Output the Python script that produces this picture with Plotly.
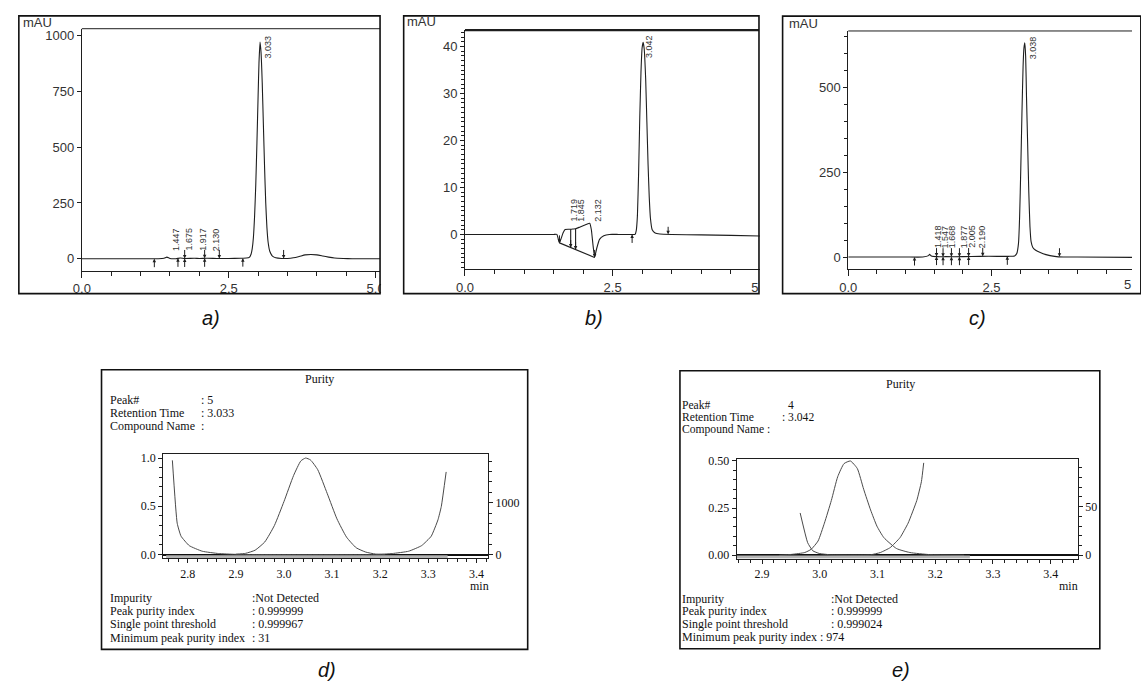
import numpy as np
import plotly.graph_objects as go

W, H = 1141, 687
def px(x): return x / W
def py(y): return 1 - y / H

# ---------------- data: chromatogram a ----------------
a_time = [0.0, 0.5, 1.0, 1.3, 1.40, 1.447, 1.50, 1.60, 1.675, 1.75, 1.917, 2.0, 2.13, 2.3, 2.5, 2.7,
          2.80, 2.85, 2.88, 2.90, 2.92, 2.94, 2.96, 2.98, 3.00, 3.015, 3.033, 3.05, 3.07, 3.09, 3.11,
          3.13, 3.15, 3.17, 3.20, 3.25, 3.30, 3.40, 3.50, 3.60, 3.70, 3.80, 3.90, 4.00, 4.10, 4.20,
          4.30, 4.45, 4.60, 5.0, 5.1]
a_abs = [0, 0, 0, 0, 2, 7, 1, 0, 3, 1, 2, 1, 2, 1, 1, 2,
         3, 6, 20, 45, 95, 190, 330, 520, 730, 880, 972, 925, 790, 600, 410,
         250, 140, 75, 32, 10, 4, 1, 1, 4, 10, 17, 19, 17, 12, 7,
         3, 1, 0, 0, 0]
a_peak_labels = ["1.447", "1.675", "1.917", "2.130"]
a_main_label = "3.033"
a_up = [1.234, 1.636, 1.75, 2.09, 2.74]
a_down = [1.75, 2.09, 2.34, 3.434]

# ---------------- data: chromatogram b ----------------
b_time = [0.0, 1.0, 1.50, 1.557, 1.58, 1.60, 1.63, 1.66, 1.695, 1.75, 1.79, 1.83, 1.873, 1.95, 2.05,
          2.112, 2.14, 2.17, 2.195, 2.23, 2.278, 2.35, 2.445, 2.6, 2.8, 2.88, 2.90, 2.92, 2.94, 2.96,
          2.98, 3.00, 3.017, 3.035, 3.06, 3.08, 3.10, 3.12, 3.14, 3.17, 3.22, 3.30, 3.5, 4.0, 4.5, 5.0]
b_abs = [0, 0, 0, 0, -1.0, -1.8, -0.8, 0.3, 1.05, 1.1, 1.1, 1.15, 1.2, 1.6, 2.1,
         2.4, 1.0, -2.5, -4.9, -3.0, -1.05, -0.3, 0, 0, 0, 0, 0.8, 4, 13, 25,
         34.5, 39.8, 40.9, 39.5, 33, 24, 15, 8, 3.5, 1.0, 0.3, 0.1, 0, -0.1, -0.2, -0.35]
b_base_t = [1.60, 2.195]          # integration baseline under the peak cluster
b_base_y = [-1.8, -4.9]
b_drop_t = [1.79, 1.873]          # drop lines between unresolved peaks
b_peak_labels = ["1.719", "1.845", "2.132"]
b_main_label = "3.042"
b_down = [1.60, 1.79, 1.873, 2.195, 3.44]
b_up = [2.83]

# ---------------- data: chromatogram c ----------------
c_time = [0.0, 0.5, 1.0, 1.3, 1.40, 1.418, 1.45, 1.55, 1.7, 2.0, 2.3, 2.6, 2.8, 2.90, 2.94, 2.97,
          2.99, 3.01, 3.03, 3.05, 3.065, 3.08, 3.095, 3.11, 3.13, 3.15, 3.17, 3.19, 3.22, 3.27,
          3.35, 3.45, 3.6, 3.75, 4.0, 5.0]
c_abs = [0, 0, 0, 0, 4, 8, 3, 1, 1, 1, 2, 2, 2, 3, 10, 40,
         120, 260, 420, 560, 615, 630, 590, 470, 330, 190, 90, 45, 28, 20,
         13, 7, 2, 0, 0, -1]
c_peak_labels = ["1.418", "1.547", "1.668", "1.877", "2.005", "2.190"]
c_main_label = "3.038"
c_up = [1.156, 1.54, 1.654, 1.80, 1.94, 2.10, 2.775]
c_down = [1.54, 1.654, 1.80, 1.94, 2.10, 2.346, 3.685]

# ---------------- data: purity d ----------------
d_time = [2.90, 2.92, 2.94, 2.96, 2.98, 3.00, 3.02, 3.035, 3.045, 3.055, 3.07, 3.09, 3.11, 3.13,
          3.15, 3.17, 3.19, 3.21]
d_peak = [0.003, 0.012, 0.045, 0.13, 0.30, 0.55, 0.82, 0.97, 1.0, 0.98, 0.88, 0.63, 0.37, 0.18,
          0.07, 0.025, 0.005, 0.0]
d_pur_t = [2.768, 2.778, 2.786, 2.803, 2.830, 2.864, 2.898, 2.93, 3.19, 3.225, 3.259, 3.286,
           3.306, 3.32, 3.327, 3.337]
d_pur = [0.976, 0.325, 0.19, 0.092, 0.034, 0.01, 0.002, 0.0, 0.0, 0.01, 0.034, 0.092,
         0.19, 0.36, 0.5, 0.856]
d_thr_t = [2.755, 3.34]
d_thr = [-41, -41]
d_info_labels = ["Peak#", "Retention Time", "Compound Name"]
d_info_values = [": 5", ": 3.033", ":"]
d_res_labels = ["Impurity", "Peak purity index", "Single point threshold", "Minimum peak purity index"]
d_res_values = [":Not Detected", ": 0.999999", ": 0.999967", ": 31"]

# ---------------- data: purity e ----------------
e_time = [2.93, 2.951, 2.974, 2.985, 2.997, 3.008, 3.02, 3.031, 3.042, 3.053, 3.065, 3.076, 3.088,
          3.099, 3.111, 3.133, 3.156, 3.19, 3.25]
e_peak = [0.0, 0.004, 0.014, 0.031, 0.075, 0.17, 0.29, 0.416, 0.486, 0.5, 0.46, 0.35, 0.24,
          0.154, 0.093, 0.035, 0.014, 0.003, 0.0]
e_pur_t = [2.966, 2.979, 2.988, 2.999, 3.019, 3.088, 3.105, 3.122, 3.139, 3.153, 3.168, 3.176, 3.18]
e_pur = [0.224, 0.066, 0.023, 0.009, 0.002, 0.002, 0.014, 0.04, 0.093, 0.17, 0.29, 0.39, 0.49]
e_thr_t = [2.856, 3.26]
e_thr = [-2.0, -2.0]
e_info_labels = ["Peak#", "Retention Time", "Compound Name :"]
e_info_values = ["4", ": 3.042", ""]
e_res_labels = ["Impurity", "Peak purity index", "Single point threshold", "Minimum peak purity index"]
e_res_values = [":Not Detected", ": 0.999999", ": 0.999024", ": 974"]

panel_labels = ["a)", "b)", "c)", "d)", "e)"]

# ---------------- figure ----------------
fig = go.Figure()
INK = '#1e1e1e'

def line_trace(x, y, xa, ya, color=INK, width=1.1, smooth=0.5, shape='spline'):
    return go.Scatter(x=x, y=y, mode='lines', xaxis=xa, yaxis=ya, hoverinfo='skip', showlegend=False,
                      line=dict(color=color, width=width, shape=shape,
                                **({'smoothing': smooth} if shape == 'spline' else {})))

fig.add_trace(line_trace(a_time, a_abs, 'x', 'y'))
fig.add_trace(line_trace(b_time, b_abs, 'x2', 'y2', smooth=0.35))
fig.add_trace(line_trace(b_base_t, b_base_y, 'x2', 'y2', shape='linear'))
drop_x, drop_y = [], []
for t in b_drop_t:
    drop_x += [t, t, None]
    drop_y += [float(np.interp(t, b_time, b_abs)), float(np.interp(t, b_base_t, b_base_y)), None]
fig.add_trace(line_trace(drop_x, drop_y, 'x2', 'y2', shape='linear'))
fig.add_trace(line_trace(c_time, c_abs, 'x3', 'y3'))

GRAY = '#4a4a4a'
BAND = '#b4b4b4'
fig.add_trace(line_trace(d_thr_t, d_thr, 'x4', 'y5', color=BAND, width=3, shape='linear'))
fig.add_trace(line_trace(d_time, d_peak, 'x4', 'y4', color=GRAY, width=1))
fig.add_trace(line_trace(d_pur_t, d_pur, 'x4', 'y4', color=GRAY, width=1, smooth=0.4))
fig.add_trace(line_trace(e_thr_t, e_thr, 'x5', 'y7', color=BAND, width=3, shape='linear'))
fig.add_trace(line_trace(e_time, e_peak, 'x5', 'y6', color=GRAY, width=1))
fig.add_trace(line_trace(e_pur_t, e_pur, 'x5', 'y6', color=GRAY, width=1, smooth=0.4))

# ---------------- axes ----------------
sans = dict(family='Liberation Sans, Arial, sans-serif', size=13, color='#333')
serif = dict(family='Liberation Serif, Times New Roman, serif', size=12, color='#111')

def top_x(dom, rng, anchor):
    return dict(domain=dom, range=rng, anchor=anchor, showline=True, linecolor=INK, linewidth=1,
                ticks='outside', ticklen=6, tickwidth=1, tickcolor=INK, tickmode='linear', tick0=0,
                dtick=2.5, tickformat='.1f',
                minor=dict(tickmode='linear', tick0=0, dtick=0.5, ticks='outside', ticklen=4, tickcolor=INK),
                showgrid=False, zeroline=False, tickfont=sans, fixedrange=True)

def top_y(dom, rng, anchor, dtick, mdtick=None):
    d = dict(domain=dom, range=rng, anchor=anchor, showline=True, linecolor=INK, linewidth=1,
             ticks='outside', ticklen=4, tickwidth=1, tickcolor=INK, tickmode='linear', tick0=0,
             dtick=dtick, showgrid=False, zeroline=False, tickfont=sans, fixedrange=True)
    if mdtick:
        d['minor'] = dict(tickmode='linear', tick0=0, dtick=mdtick, ticks='outside', ticklen=3, tickcolor=INK)
    return d

fig.update_layout(
    xaxis=top_x([px(74), px(377)], [0, (377 - 74) / 59.7], 'y'),
    yaxis=top_y([py(270), py(25)], [-54.6, 1032], 'x', 250),
    xaxis2=top_x([px(463.3), px(763.3)], [0, 5.0001], 'y2'),
    yaxis2=top_y([py(268.3), py(26)], [-7.4, 43.6], 'x2', 10, 1),
    xaxis3=top_x([px(852.7), 1.0], [0, (1141 - 852.7) / 58.24], 'y3'),
    yaxis3=top_y([py(268.3), py(27.3)], [-35.8, 665], 'x3', 250, 50),
)

def pur_x(dom, rng, anchor, t0):
    return dict(domain=dom, range=rng, anchor=anchor, showline=True, mirror=True, linecolor=INK,
                linewidth=1, ticks='outside', ticklen=4, tickcolor=INK, tickmode='linear', tick0=t0,
                dtick=0.1, tickformat='.1f',
                minor=dict(tickmode='linear', tick0=t0, dtick=0.02, ticks='outside', ticklen=3, tickcolor=INK),
                showgrid=False, zeroline=False, tickfont=serif, fixedrange=True)

def pur_yl(dom, rng, anchor, dtick, fmt, mdtick):
    return dict(domain=dom, range=rng, anchor=anchor, showline=True, linecolor=INK, linewidth=1,
                ticks='outside', ticklen=4, tickcolor=INK, tickmode='linear', tick0=0, dtick=dtick,
                tickformat=fmt,
                minor=dict(tickmode='linear', tick0=0, dtick=mdtick, ticks='outside', ticklen=3, tickcolor=INK),
                showgrid=False, zeroline=True, zerolinecolor='#111', zerolinewidth=1.5,
                tickfont=serif, fixedrange=True)

def pur_yr(over, rng, anchor, dtick, mdtick):
    return dict(overlaying=over, side='right', anchor=anchor, range=rng, showline=True, linecolor=INK,
                linewidth=1, ticks='outside', ticklen=4, tickcolor=INK, tickmode='linear', tick0=0,
                dtick=dtick,
                minor=dict(tickmode='linear', tick0=0, dtick=mdtick, ticks='outside', ticklen=3, tickcolor=INK),
                showgrid=False, zeroline=False, tickfont=serif, fixedrange=True)

fig.update_layout(
    xaxis4=pur_x([px(156.7), px(486.7)], [2.749, 3.424], 'y4', 2.8),
    yaxis4=pur_yl([py(561), py(455.7)], [-0.041, 1.0377], 'x4', 0.5, '.1f', 0.1),
    yaxis5=pur_yr('y4', [-76.4, 1930], 'x4', 1000, 200),
    xaxis5=pur_x([px(739.3), px(1086)], [2.856, 3.447], 'y6', 2.9),
    yaxis6=pur_yl([py(561.3), py(460)], [-0.0192, 0.5124], 'x5', 0.25, '.2f', 0.05),
    yaxis7=pur_yr('y6', [-3.8, 99.6], 'x5', 50, 10),
)

# ---------------- annotations ----------------
ann = []
lab_font = dict(family='Liberation Sans, Arial, sans-serif', size=9, color='#333')

def peak_labels(labels, main, times, vals, xa, ya, small_shift, main_shift, xshift, main_xshift):
    out = []
    for lab in labels:
        out.append(dict(x=float(lab), y=0, xref=xa, yref=ya, text=lab, textangle=-90, showarrow=False,
                        xanchor='center', yanchor='bottom', xshift=xshift, yshift=small_shift, font=lab_font))
    i = int(np.argmax(vals))
    out.append(dict(x=times[i], y=vals[i], xref=xa, yref=ya, text=main, textangle=-90, showarrow=False,
                    xanchor='center', yanchor='top', xshift=main_xshift, yshift=main_shift, font=lab_font))
    return out

ann += peak_labels(a_peak_labels, a_main_label, a_time, a_abs, 'x', 'y', 6, 8, 9, 8)
ann += peak_labels(b_peak_labels, b_main_label, b_time, b_abs, 'x2', 'y2', 11, 9, 7, 6)
ann += peak_labels(c_peak_labels, c_main_label, c_time, c_abs, 'x3', 'y3', 7, 9, 8, 9)

def arrows(ts, times, vals, xa, ya, up):
    out = []
    for t in ts:
        out.append(dict(x=t, y=float(np.interp(t, times, vals)), xref=xa, yref=ya, text='', showarrow=True,
                        ax=0, ay=10 if up else -10, arrowhead=2, arrowsize=0.7, arrowwidth=1,
                        arrowcolor=INK, standoff=0))
    return out

ann += arrows(a_up, a_time, a_abs, 'x', 'y', True)
ann += arrows(a_down, a_time, a_abs, 'x', 'y', False)
for t in b_down:
    if b_base_t[0] <= t <= b_base_t[1]:
        y = float(np.interp(t, b_base_t, b_base_y))
    else:
        y = float(np.interp(t, b_time, b_abs))
    ann.append(dict(x=t, y=y, xref='x2', yref='y2', text='', showarrow=True, ax=0, ay=-9, arrowhead=2,
                    arrowsize=0.7, arrowwidth=1, arrowcolor=INK, standoff=0))
ann += arrows(b_up, b_time, b_abs, 'x2', 'y2', True)
ann += arrows(c_up, c_time, c_abs, 'x3', 'y3', True)
ann += arrows(c_down, c_time, c_abs, 'x3', 'y3', False)

# mAU labels and the clipped last tick of panel c
for x0, y0 in [(12, 19), (402, 18), (790, 20)]:
    ann.append(dict(x=px(x0), y=py(y0), xref='paper', yref='paper', text='mAU', showarrow=False,
                    xanchor='left', yanchor='middle', font=sans))
ann.append(dict(x=1.0, y=py(283.5), xref='paper', yref='paper', text='5',
                showarrow=False, xanchor='right', yanchor='middle', font=sans, borderpad=0))

# purity text blocks
def text(x, y, s, anchor='left', size=12):
    return dict(x=px(x), y=py(y), xref='paper', yref='paper', text=s, showarrow=False,
                xanchor=anchor, yanchor='middle', borderpad=0, font=dict(serif, size=size))

ann.append(text(315, 379, 'Purity', 'center'))
for i, (l, v) in enumerate(zip(d_info_labels, d_info_values)):
    yy = [401, 414.3, 426.7][i]
    ann.append(text(102, yy, l))
    ann.append(text(194, yy, v))
for i, (l, v) in enumerate(zip(d_res_labels, d_res_values)):
    yy = [601, 614.3, 627.7, 641][i]
    ann.append(text(102, yy, l))
    ann.append(text(245.5, yy, v))
ann.append(text(478, 588.5, 'min', 'center'))

ann.append(text(906, 384.3, 'Purity', 'center'))
e_val_x = [790.5, 784, 784]
for i, (l, v) in enumerate(zip(e_info_labels, e_info_values)):
    yy = [406.3, 418.5, 430.7][i]
    ann.append(text(683, yy, l, size=11.6))
    if v:
        ann.append(text(e_val_x[i], yy, v, size=11.6))
e_res_x = [834, 834, 834, 823]
for i, (l, v) in enumerate(zip(e_res_labels, e_res_values)):
    yy = [601.7, 614.3, 627, 640.3][i]
    ann.append(text(683, yy, l))
    ann.append(text(e_res_x[i], yy, v))
ann.append(text(1076.7, 589, 'min', 'center'))

# panel letters
for lab, (x0, y0) in zip(panel_labels, [(205, 318), (594, 318), (984, 318), (323, 674), (906, 674)]):
    ann.append(dict(x=px(x0), y=py(y0), xref='paper', yref='paper', text='<i>' + lab + '</i>',
                    showarrow=False, xanchor='center', yanchor='middle',
                    font=dict(family='Liberation Sans, Arial, sans-serif', size=20, color='#111')))

# ---------------- shapes ----------------
shapes = []
for x0, x1 in [(378, 400), (762.8, 785.3)]:
    shapes.append(dict(type='rect', xref='paper', yref='paper', x0=px(x0), x1=px(x1), y0=py(300), y1=py(0),
                       fillcolor='white', line=dict(width=0), layer='above'))
for x0, x1, y0, w in [(74, 377, 25, 1), (463.3, 762, 26.5, 2.2), (852.7, 1141, 27.3, 1)]:
    shapes.append(dict(type='line', xref='paper', yref='paper', x0=px(x0), x1=px(x1), y0=py(y0), y1=py(y0),
                       line=dict(color=INK, width=w), layer='above'))
for x0, y0, x1, y1 in [(10, 12, 377, 293), (401, 12, 762, 293), (786, 12.3, 1150, 293),
                       (94, 370, 527, 653), (681.7, 371, 1108.3, 652.3)]:
    shapes.append(dict(type='rect', xref='paper', yref='paper', x0=px(x0), x1=px(x1), y0=py(y1), y1=py(y0),
                       line=dict(color='#111', width=1.6), fillcolor='rgba(0,0,0,0)', layer='above'))

fig.update_layout(width=W, height=H, margin=dict(l=0, r=0, t=0, b=0), paper_bgcolor='white',
                  plot_bgcolor='white', showlegend=False, hovermode=False, annotations=ann, shapes=shapes)

fig.write_html("out.html",
               post_script="document.body.style.margin='0px';document.body.style.overflow='hidden';")
